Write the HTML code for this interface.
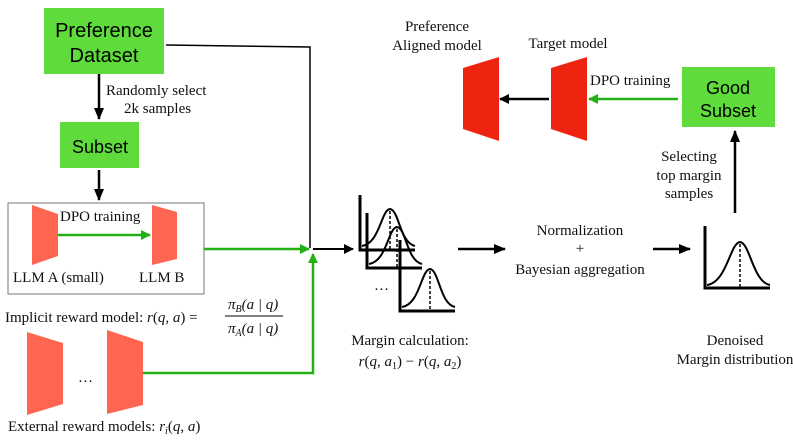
<!DOCTYPE html>
<html><head><meta charset="utf-8"><style>
body{margin:0;background:#fff}
svg{display:block}
text{font-family:"Liberation Serif",serif;font-size:15px;fill:#111}
.s{font-family:"Liberation Sans",sans-serif;font-size:20px;fill:#000}
.i{font-style:italic}
</style></head><body>
<svg width="793" height="446" viewBox="0 0 793 446" xmlns="http://www.w3.org/2000/svg">
<defs>
<marker id="ab" markerWidth="10" markerHeight="10" refX="9" refY="5" orient="auto" markerUnits="userSpaceOnUse"><path d="M0,0 L10,5 L0,10z" fill="#000"/></marker>
<marker id="ag" markerWidth="10" markerHeight="10" refX="9" refY="5" orient="auto" markerUnits="userSpaceOnUse"><path d="M0,0 L10,5 L0,10z" fill="#22b014"/></marker>
<marker id="ab2" markerWidth="12" markerHeight="10" refX="11" refY="5" orient="auto" markerUnits="userSpaceOnUse"><path d="M0,0 L12,5 L0,10z" fill="#000"/></marker>
</defs>
<rect x="44" y="8" width="120" height="66" fill="#5fdb3b"/>
<text class="s" x="104" y="37" text-anchor="middle">Preference</text>
<text class="s" x="104" y="62" text-anchor="middle">Dataset</text>
<polyline points="166,45 310,47 310,248" fill="none" stroke="#000" stroke-width="1.5"/>
<line x1="99" y1="74" x2="99" y2="119" stroke="#000" stroke-width="2.5" marker-end="url(#ab2)"/>
<text x="106" y="95">Randomly select</text>
<text x="124" y="113">2k samples</text>
<rect x="60" y="122" width="79" height="46" fill="#5fdb3b"/>
<text class="s" x="100" y="153" text-anchor="middle" style="font-size:18px">Subset</text>
<line x1="99" y1="170" x2="99" y2="200" stroke="#000" stroke-width="2.5" marker-end="url(#ab2)"/>
<rect x="8" y="203" width="196" height="91" fill="none" stroke="#777" stroke-width="1"/>
<polygon points="32,205 58,214 58,256 32,265" fill="#ff6652"/>
<polygon points="152,205 177,212 177,259 152,265" fill="#ff6652"/>
<line x1="58" y1="235" x2="150" y2="235" stroke="#22b014" stroke-width="2.5" marker-end="url(#ag)"/>
<text x="60" y="221">DPO training</text>
<text x="13" y="282">LLM  A (small)</text>
<text x="139" y="282">LLM B</text>
<line x1="204" y1="249" x2="309" y2="249" stroke="#22b014" stroke-width="2.5" marker-end="url(#ag)"/>
<text x="5" y="322">Implicit reward model: <tspan class="i">r</tspan>(<tspan class="i">q</tspan>, <tspan class="i">a</tspan>) =</text>
<line x1="225" y1="316" x2="283" y2="316" stroke="#000" stroke-width="1"/>
<text x="228" y="309" class="i">π<tspan font-size="10" dy="3">B</tspan><tspan dy="-3">(a | q)</tspan></text>
<text x="228" y="333" class="i">π<tspan font-size="10" dy="3">A</tspan><tspan dy="-3">(a | q)</tspan></text>
<polygon points="27,332 63,343 63,404 27,415" fill="#ff6652"/>
<polygon points="107,330 143,342 143,405 107,414" fill="#ff6652"/>
<text x="78" y="382">…</text>
<polyline points="143,373 313,373 313,254" fill="none" stroke="#22b014" stroke-width="2.5" marker-end="url(#ag)"/>
<text x="8" y="431">External reward models: <tspan class="i">r<tspan font-size="10" dy="3">i</tspan></tspan><tspan dy="-3">(<tspan class="i">q</tspan>, <tspan class="i">a</tspan>)</tspan></text>
<line x1="313" y1="249" x2="353" y2="249" stroke="#000" stroke-width="2" marker-end="url(#ab)"/>
<g fill="none" stroke="#000" stroke-width="3">
<polyline points="360,195 360,250 415,250"/>
<polyline points="367,213 367,268 422,268"/>
<polyline points="400,240 400,311 455,311"/>
<polyline points="705,226 705,288 770,288"/>
</g>
<g fill="none" stroke="#000" stroke-width="2">
<path d="M362,246 C380,243 381,210 390,209 C399,210 400,243 415,246"/>
<path d="M369,264 C387,261 388,228 397,227 C406,228 407,261 422,264"/>
<path d="M402,307 C420,304 421,270 430,269 C439,270 440,304 455,307"/>
<path d="M707,285 C727,282 730,243 740,242 C750,243 753,282 770,285"/>
</g>
<g stroke="#000" stroke-width="1.5" stroke-dasharray="3,2">
<line x1="390" y1="211" x2="390" y2="250"/><line x1="397" y1="229" x2="397" y2="268"/>
<line x1="430" y1="271" x2="430" y2="311"/><line x1="740" y1="244" x2="740" y2="288"/>
</g>
<text x="374" y="290">…</text>
<line x1="458" y1="249" x2="505" y2="249" stroke="#000" stroke-width="2.5" marker-end="url(#ab2)"/>
<text x="580" y="235" text-anchor="middle">Normalization</text>
<text x="580" y="253" text-anchor="middle">+</text>
<text x="580" y="274" text-anchor="middle">Bayesian aggregation</text>
<line x1="653" y1="249" x2="690" y2="249" stroke="#000" stroke-width="2.5" marker-end="url(#ab2)"/>
<text x="410" y="345" text-anchor="middle">Margin calculation:</text>
<text x="410" y="366" text-anchor="middle"><tspan class="i">r</tspan>(<tspan class="i">q</tspan>, <tspan class="i">a</tspan><tspan font-size="10" dy="3">1</tspan><tspan dy="-3">) − </tspan><tspan class="i">r</tspan>(<tspan class="i">q</tspan>, <tspan class="i">a</tspan><tspan font-size="10" dy="3">2</tspan><tspan dy="-3">)</tspan></text>
<text x="735" y="345" text-anchor="middle">Denoised</text>
<text x="735" y="364" text-anchor="middle">Margin distribution</text>
<line x1="735" y1="213" x2="735" y2="131" stroke="#000" stroke-width="2.5" marker-end="url(#ab2)"/>
<text x="689" y="161" text-anchor="middle">Selecting</text>
<text x="689" y="180" text-anchor="middle">top margin</text>
<text x="689" y="198" text-anchor="middle">samples</text>
<rect x="682" y="67" width="93" height="60" fill="#5fdb3b"/>
<text class="s" x="728" y="94" text-anchor="middle" style="font-size:18px">Good</text>
<text class="s" x="728" y="117" text-anchor="middle" style="font-size:18px">Subset</text>
<polygon points="463,68 499,57 499,141 463,129" fill="#ee2411"/>
<polygon points="551,68 587,57 587,141 551,129" fill="#ee2411"/>
<line x1="549" y1="99" x2="500" y2="99" stroke="#000" stroke-width="2.5" marker-end="url(#ab)"/>
<line x1="678" y1="99" x2="589" y2="99" stroke="#22b014" stroke-width="2.5" marker-end="url(#ag)"/>
<text x="590" y="85">DPO training</text>
<text x="437" y="31" text-anchor="middle">Preference</text>
<text x="437" y="50" text-anchor="middle">Aligned model</text>
<text x="568" y="48" text-anchor="middle">Target model</text>
</svg>
</body></html>
